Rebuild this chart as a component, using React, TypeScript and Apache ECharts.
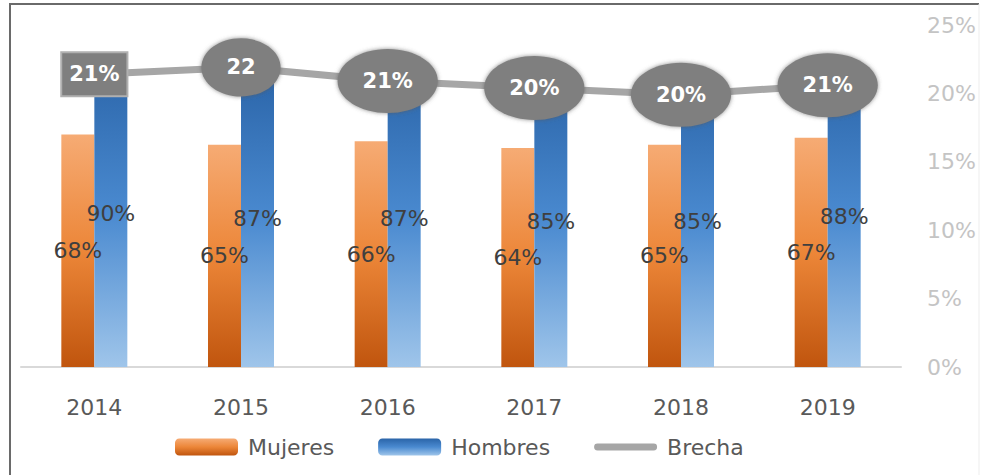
import React, { useEffect, useRef } from "react";
import * as echarts from "echarts";

const years = ["2014", "2015", "2016", "2017", "2018", "2019"];
const mujeres = [68, 65, 66, 64, 65, 67];
const hombres = [90, 87, 87, 85, 85, 88];
const brecha = [21.4, 21.9, 20.9, 20.4, 19.9, 20.6];
const brechaLabels = ["21%", "22", "21%", "20%", "20%", "21%"];
const brechaShapes = ["rect", "ellipse", "ellipse", "ellipse", "ellipse", "ellipse"];
const rightAxisMax = 25;
const rightAxisStep = 5;

const FONT = '"DejaVu Sans", Verdana, sans-serif';

function labelWidth(t: string): number {
  let w = 0;
  for (const ch of t) w += ch === "%" ? 21 : 14.6;
  return w;
}

export default function App() {
  const ref = useRef<HTMLDivElement>(null);
  useEffect(() => {
    document.body.style.margin = "0";
    if (!ref.current) return;
    const chart = echarts.init(ref.current, null, { renderer: "svg" });
    const orange = new echarts.graphic.LinearGradient(0, 0, 0, 1, [
      { offset: 0, color: "#f6ab74" },
      { offset: 0.5, color: "#ec8638" },
      { offset: 1, color: "#c0550e" },
    ]);
    const blue = new echarts.graphic.LinearGradient(0, 0, 0, 1, [
      { offset: 0, color: "#2a64a8" },
      { offset: 0.5, color: "#4a8ad0" },
      { offset: 1, color: "#9fc5ea" },
    ]);
    chart.setOption({
      animation: false,
      textStyle: { fontFamily: FONT },
      grid: { left: 21, right: 81, top: 25, bottom: 108, containLabel: false },
      graphic: [
        {
          type: "polyline",
          shape: { points: [[10, 480], [10, 4], [979, 4]] },
          style: { fill: "none", stroke: "#6a6a6a", lineWidth: 2 },
          silent: true,
        },
        {
          type: "line",
          shape: { x1: 979, y1: 4, x2: 979, y2: 480 },
          style: { stroke: "#ededed", lineWidth: 1 },
          silent: true,
        },
      ],
      legend: {
        data: [
          { name: "Mujeres" },
          { name: "Hombres" },
          { name: "Brecha", icon: "path://M4,0 L70,0 A4,4 0 0 1 70,8 L4,8 A4,4 0 0 1 4,0 Z" },
        ],
        left: 170,
        top: 431,
        itemWidth: 63,
        itemHeight: 17,
        itemGap: 44,
        textStyle: { fontSize: 22, color: "#595959", fontFamily: FONT, padding: [0, 0, 0, 5] },
      },
      xAxis: {
        type: "category",
        data: years,
        axisLine: { lineStyle: { color: "#d9d9d9", width: 2 } },
        axisTick: { show: false },
        axisLabel: { color: "#595959", fontSize: 22, fontFamily: FONT, margin: 29 },
      },
      yAxis: [
        { type: "value", min: 0, max: 100, show: false },
        {
          type: "value",
          position: "right",
          min: 0,
          max: rightAxisMax,
          interval: rightAxisStep,
          axisLine: { show: false },
          axisTick: { show: false },
          splitLine: { show: false },
          axisLabel: { formatter: "{value}%", color: "#c4c4c4", fontSize: 22, fontFamily: FONT, margin: 26 },
        },
      ],
      series: [
        {
          name: "Mujeres",
          type: "bar",
          data: mujeres,
          barWidth: 33,
          barGap: "0%",
          itemStyle: { color: orange },
          label: { show: true, position: "inside", formatter: "{c}%", color: "#3f3f3f", fontSize: 22, fontFamily: FONT },
        },
        {
          name: "Hombres",
          type: "bar",
          data: hombres,
          barWidth: 33,
          barGap: "0%",
          itemStyle: { color: blue },
          label: { show: true, position: "inside", formatter: "{c}%", color: "#3f3f3f", fontSize: 22, fontFamily: FONT },
        },
        {
          name: "Brecha",
          type: "line",
          yAxisIndex: 1,
          data: brecha,
          symbol: "none",
          z: 3,
          itemStyle: { color: "#a6a6a6" },
          lineStyle: { color: "#a6a6a6", width: 7, cap: "round" },
        },
        {
          name: "BrechaLabels",
          type: "custom",
          yAxisIndex: 1,
          z: 5,
          data: brecha.map((v, i) => [i, v]),
          renderItem: (params: any, api: any) => {
            const i = params.dataIndex;
            const p = api.coord([api.value(0), api.value(1)]);
            const txt = brechaLabels[i];
            const tw = labelWidth(txt);
            let shape: any;
            if (brechaShapes[i] === "rect") {
              const w = tw + 16;
              const h = 44;
              shape = {
                type: "rect",
                shape: { x: p[0] - w / 2, y: p[1] - h / 2, width: w, height: h },
                style: { fill: "#7f7f7f", stroke: "#b0b0b0", lineWidth: 2 },
              };
            } else {
              const rx = tw / 2 + 25;
              const ry = 18 + rx * 0.28;
              shape = {
                type: "ellipse",
                shape: { cx: p[0], cy: p[1], rx, ry },
                style: { fill: "#7f7f7f", shadowBlur: 4, shadowColor: "rgba(90,90,90,0.7)" },
              };
            }
            return {
              type: "group",
              children: [
                shape,
                {
                  type: "text",
                  x: p[0],
                  y: p[1],
                  style: {
                    text: txt,
                    fill: "#ffffff",
                    fontSize: 21,
                    fontWeight: "bold",
                    fontFamily: FONT,
                    align: "center",
                    verticalAlign: "middle",
                  },
                },
              ],
            };
          },
        },
      ],
    });
    return () => chart.dispose();
  }, []);
  return <div ref={ref} style={{ width: 982, height: 475 }} />;
}
